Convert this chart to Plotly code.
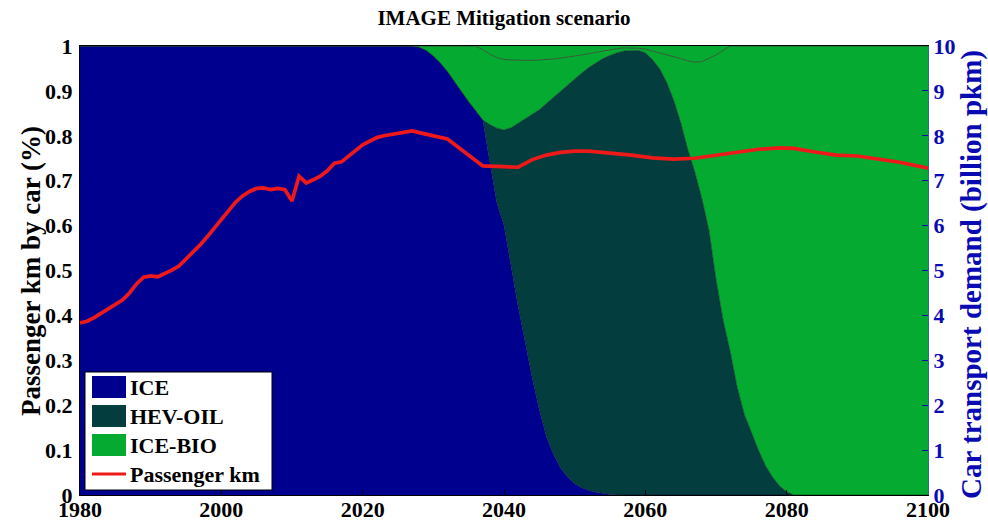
import plotly.graph_objects as go

# Share of passenger km by car technology (fraction of total)
years = [1980, 2026, 2027, 2028, 2029, 2030, 2031, 2032, 2033, 2034, 2035,
         2036, 2037, 2038, 2039, 2040, 2041, 2042, 2043, 2044, 2045, 2046,
         2047, 2048, 2049, 2050, 2051, 2052, 2053, 2054, 2055, 2056, 2057,
         2058, 2059, 2060, 2061, 2062, 2063, 2064, 2065, 2066, 2067, 2068,
         2069, 2070, 2071, 2072, 2073, 2074, 2075, 2076, 2077, 2078, 2079,
         2080, 2081, 2100]
ice = [1.0, 1.0, 1.0, 0.997, 0.99, 0.978, 0.962, 0.943, 0.92, 0.897, 0.876,
       0.856, 0.835, 0.74, 0.65, 0.60, 0.51, 0.42, 0.34, 0.26, 0.19, 0.13,
       0.09, 0.06, 0.04, 0.025, 0.016, 0.01, 0.006, 0.003, 0.001, 0.0, 0.0,
       0.0, 0.0, 0.0, 0.0, 0.0, 0.0, 0.0, 0.0, 0.0, 0.0, 0.0,
       0.0, 0.0, 0.0, 0.0, 0.0, 0.0, 0.0, 0.0, 0.0, 0.0, 0.0,
       0.0, 0.0, 0.0]
hev_oil = [0.0, 0.0, 0.0, 0.0, 0.0, 0.0, 0.0, 0.0, 0.0, 0.0, 0.0,
           0.0, 0.0, 0.085, 0.167, 0.213, 0.308, 0.408, 0.498, 0.588, 0.668, 0.742,
           0.796, 0.84, 0.874, 0.903, 0.924, 0.942, 0.956, 0.969, 0.978, 0.985, 0.989,
           0.99, 0.99, 0.985, 0.97, 0.95, 0.92, 0.88, 0.83, 0.77, 0.72, 0.66,
           0.59, 0.48, 0.39, 0.32, 0.24, 0.18, 0.14, 0.10, 0.065, 0.04, 0.02,
           0.007, 0.0, 0.0]
ice_bio = [0.0, 0.0, 0.0, 0.003, 0.01, 0.022, 0.038, 0.057, 0.08, 0.103, 0.124,
           0.144, 0.157, 0.157, 0.157, 0.157, 0.151, 0.14, 0.13, 0.12, 0.111, 0.097,
           0.085, 0.073, 0.061, 0.05, 0.04, 0.031, 0.024, 0.017, 0.013, 0.009, 0.007,
           0.006, 0.005, 0.008, 0.019, 0.035, 0.061, 0.096, 0.142, 0.197, 0.244, 0.305,
           0.382, 0.50, 0.60, 0.68, 0.76, 0.82, 0.86, 0.90, 0.935, 0.96, 0.98,
           0.993, 1.0, 1.0]
other = [0.0, 0.0, 0.0, 0.0, 0.0, 0.0, 0.0, 0.0, 0.0, 0.0, 0.0,
         0.0, 0.008, 0.018, 0.026, 0.03, 0.031, 0.032, 0.032, 0.032, 0.031, 0.031,
         0.029, 0.027, 0.025, 0.022, 0.02, 0.017, 0.014, 0.011, 0.008, 0.006, 0.004,
         0.004, 0.005, 0.007, 0.011, 0.015, 0.019, 0.024, 0.028, 0.033, 0.036, 0.035,
         0.028, 0.02, 0.01, 0.0, 0.0, 0.0, 0.0, 0.0, 0.0, 0.0, 0.0,
         0.0, 0.0, 0.0]

# Car transport demand (billion pkm)
pkm_years = [1980, 1981, 1982, 1983, 1984, 1985, 1986, 1987, 1988, 1989,
             1990, 1991, 1992, 1993, 1994, 1995, 1996, 1997, 1998, 1999,
             2000, 2001, 2002, 2003, 2004, 2005, 2006, 2007, 2008, 2009,
             2010, 2011, 2012, 2013, 2014, 2015, 2016, 2017, 2018, 2019,
             2020, 2021, 2022, 2023, 2024, 2025, 2026, 2027, 2028, 2030,
             2032, 2037, 2042, 2044, 2046, 2048, 2050, 2052, 2055, 2058,
             2061, 2064, 2067, 2070, 2073, 2076, 2079, 2081, 2084, 2087,
             2090, 2093, 2096, 2100]
pkm = [3.83, 3.87, 3.95, 4.05, 4.15, 4.25, 4.34, 4.50, 4.70, 4.85,
       4.88, 4.86, 4.93, 5.01, 5.10, 5.25, 5.40, 5.57, 5.75, 5.95,
       6.15, 6.35, 6.52, 6.66, 6.76, 6.83, 6.84, 6.80, 6.83, 6.80,
       6.55, 7.10, 6.95, 7.02, 7.10, 7.22, 7.39, 7.42, 7.55, 7.68,
       7.80, 7.88, 7.96, 8.00, 8.03, 8.06, 8.08, 8.11, 8.07, 8.00,
       7.93, 7.33, 7.30, 7.47, 7.57, 7.63, 7.66, 7.66, 7.62, 7.57,
       7.51, 7.48, 7.50, 7.57, 7.65, 7.70, 7.73, 7.72, 7.64, 7.57,
       7.55, 7.49, 7.41, 7.28]

x_ticks = [1980, 2000, 2020, 2040, 2060, 2080, 2100]
y_ticks = [0, 0.1, 0.2, 0.3, 0.4, 0.5, 0.6, 0.7, 0.8, 0.9, 1]
y_ticktext = ["0", "0.1", "0.2", "0.3", "0.4", "0.5", "0.6", "0.7", "0.8", "0.9", "1"]
y2_ticks = [0, 1, 2, 3, 4, 5, 6, 7, 8, 9, 10]

C_ICE = "#00008f"
C_HEV = "#033d3d"
C_BIO = "#05ab30"
C_PKM = "#ee1a1a"
BLUE = "#0a0ab4"
FONT = "Liberation Serif"

fig = go.Figure()
fig.add_trace(go.Scatter(x=years, y=ice, name="ICE", stackgroup="share", mode="lines",
                         line=dict(width=0.5, color="#000050"), fillcolor=C_ICE,
                         showlegend=False))
fig.add_trace(go.Scatter(x=years, y=hev_oil, name="HEV-OIL", stackgroup="share", mode="lines",
                         line=dict(width=0.6, color="#0a2a20"), fillcolor=C_HEV,
                         showlegend=False))
fig.add_trace(go.Scatter(x=years, y=ice_bio, name="ICE-BIO", stackgroup="share", mode="lines",
                         line=dict(width=1, color="#2e5a36"), fillcolor=C_BIO,
                         showlegend=False))
fig.add_trace(go.Scatter(x=years, y=other, name="other", stackgroup="share", mode="lines",
                         line=dict(width=0, color=C_BIO), fillcolor=C_BIO,
                         showlegend=False))
fig.add_trace(go.Scatter(x=pkm_years, y=pkm, name="Passenger km", yaxis="y2", mode="lines",
                         line=dict(width=3.7, color=C_PKM), showlegend=False))

# Plot area in pixels: x 80..928, y 46..495
L, R, T, B = 80, 928, 46, 495


def px(x):
    return (x - L) / (R - L)


def py(y):
    return (B - y) / (B - T)


shapes = []
annotations = []

# Legend box
shapes.append(dict(type="rect", xref="paper", yref="paper",
                   x0=px(85), x1=px(272), y0=py(490), y1=py(372),
                   fillcolor="white", line=dict(color="black", width=1), layer="above"))
legend_items = [("ICE", C_ICE, "patch", 387),
                ("HEV-OIL", C_HEV, "patch", 416),
                ("ICE-BIO", C_BIO, "patch", 445),
                ("Passenger km", C_PKM, "line", 474)]
for label, color, kind, yc in legend_items:
    if kind == "patch":
        shapes.append(dict(type="rect", xref="paper", yref="paper",
                           x0=px(92), x1=px(126), y0=py(yc + 11), y1=py(yc - 11),
                           fillcolor=color, line=dict(width=0), layer="above"))
    else:
        shapes.append(dict(type="line", xref="paper", yref="paper",
                           x0=px(92), x1=px(126), y0=py(yc), y1=py(yc),
                           line=dict(color=color, width=3), layer="above"))
    annotations.append(dict(text=label, xref="paper", yref="paper",
                            x=px(128), y=py(yc), xanchor="left", yanchor="middle",
                            showarrow=False,
                            font=dict(family=FONT, size=22, color="black", weight="bold")))

# Axis titles
annotations.append(dict(text="Passenger km by car (%)", xref="paper", yref="paper",
                        x=px(31), y=py(271), textangle=-90, showarrow=False,
                        xanchor="center", yanchor="middle",
                        font=dict(family=FONT, size=27, color="black", weight="bold")))
annotations.append(dict(text="Car transport demand (billion pkm)", xref="paper", yref="paper",
                        x=px(971), y=py(275), textangle=-90, showarrow=False,
                        xanchor="center", yanchor="middle",
                        font=dict(family=FONT, size=29, color=BLUE, weight="bold")))

fig.update_layout(
    width=988, height=522,
    margin=dict(l=L, r=988 - R, t=T, b=522 - B, autoexpand=False),
    paper_bgcolor="white", plot_bgcolor="white",
    title=dict(text="IMAGE Mitigation scenario", x=px(504), xref="paper",
               y=1 - 18 / 522, yref="container", xanchor="center", yanchor="middle",
               font=dict(family=FONT, size=21, color="black", weight="bold")),
    xaxis=dict(range=[1980, 2100], tickvals=x_ticks, ticks="inside", ticklen=5,
               tickcolor="black", showgrid=False, zeroline=False, automargin=False,
               showline=True, linecolor="black", linewidth=1, mirror=True,
               ticklabelstandoff=-5,
               tickfont=dict(family=FONT, size=22, color="black", weight="bold")),
    yaxis=dict(range=[0, 1], tickvals=y_ticks, ticktext=y_ticktext, ticks="",
               showgrid=False, zeroline=False, showline=True, linecolor="black",
               linewidth=1, layer="below traces", ticklabelstandoff=2, automargin=False,
               tickfont=dict(family=FONT, size=22, color="black", weight="bold")),
    yaxis2=dict(range=[0, 10], tickvals=y2_ticks, overlaying="y", side="right",
                ticks="inside", ticklen=6, tickcolor=BLUE, showgrid=False,
                zeroline=False, showline=True, linecolor="#3a5fb0", linewidth=1,
                automargin=False,
                tickfont=dict(family=FONT, size=22, color=BLUE, weight="bold")),
    shapes=shapes,
    annotations=annotations,
    showlegend=False,
)

fig.write_html("out.html")
